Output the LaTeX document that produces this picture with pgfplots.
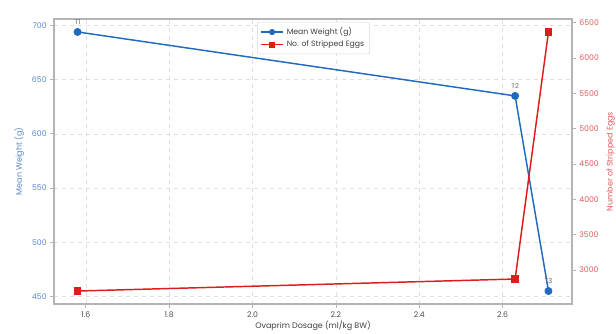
\documentclass[border=0pt]{standalone}
\usepackage{pgfplots}
\pgfplotsset{compat=1.18}
\usepackage{pgfplotstable}
\usepackage{fontspec}
\setmainfont{Poppins}
\definecolor{wblue}{HTML}{1F6BBE}
\definecolor{ered}{HTML}{DD1C1C}
\definecolor{bluetxt}{HTML}{5A87C8}
\definecolor{redtxt}{HTML}{E25A5A}
\definecolor{spine}{HTML}{B4B4B4}
\pgfplotstableread{
x w lab
1.58 694 T1
2.63 635 T2
2.71 455 T3
}\weight
\pgfplotstableread{
x e
1.58 2702
2.63 2872
2.71 6368
}\eggs
\begin{document}
\begin{tikzpicture}
\path[use as bounding box] (-40.5pt,-22.5pt) rectangle (421.5pt,228pt);
\begin{axis}[
  at={(0,0)}, anchor=south west,
  scale only axis, width=388.5pt, height=213.75pt,
  xmin=1.5235, xmax=2.7665, ymin=443.05, ymax=705.95,
  xtick={1.6,1.8,2.0,2.2,2.4,2.6},
  xticklabels={1.6,1.8,2.0,2.2,2.4,2.6},
  ytick={450,500,550,600,650,700},
  xtick pos=bottom, ytick pos=left,
  tick align=outside, major tick length=3pt,
  tick style={spine, line width=0.6pt},
  axis line style={spine, line width=1pt},
  grid=major, grid style={dashed, gray!25, line width=0.5pt},
  /pgf/number format/assume math mode=true,
  ticklabel style={font=\fontsize{5.8}{6}\selectfont},
  yticklabel style={text=bluetxt, xshift=1pt},
  xticklabel style={text=black!70, yshift=1pt},
  xlabel={Ovaprim Dosage (ml/kg BW)},
  every axis x label/.style={at={(axis description cs:0.5,0)}, anchor=base, yshift=-18.5pt,
    font=\fontsize{6}{6}\selectfont, text=black!75},
  ylabel={Mean Weight (g)},
  every axis y label/.style={at={(axis description cs:0,0.5)}, xshift=-26pt, anchor=center, rotate=90,
    font=\fontsize{6}{6}\selectfont, text=bluetxt},
  clip=false,
]
\addplot[wblue, line width=1.1pt, mark=*, mark size=2.4pt,
  nodes near coords, point meta=explicit symbolic,
  nodes near coords style={font=\fontsize{5}{5}\selectfont, text=black!60, anchor=south, yshift=1.5pt}]
  table[x=x, y=w, meta=lab] {\weight};
\end{axis}
\begin{axis}[
  at={(0,0)}, anchor=south west,
  scale only axis, width=388.5pt, height=213.75pt,
  xmin=1.5235, xmax=2.7665, ymin=2518.6, ymax=6551.4,
  axis x line=none, axis y line*=right,
  ytick={3000,3500,4000,4500,5000,5500,6000,6500},
  tick align=outside, major tick length=3pt,
  tick style={spine, line width=0.6pt},
  axis line style={spine, line width=1pt},
  /pgf/number format/assume math mode=true,
  /pgf/number format/1000 sep={},
  ticklabel style={font=\fontsize{5.8}{6}\selectfont, text=redtxt, xshift=-1pt},
  ylabel={Number of Stripped Eggs},
  every axis y label/.style={at={(axis description cs:1,0.5)}, xshift=29pt, anchor=center, rotate=90,
    font=\fontsize{6}{6}\selectfont, text=redtxt},
  legend style={at={(0.392,0.99)}, anchor=north west, font=\fontsize{5.8}{6}\selectfont,
    draw=gray!30, rounded corners=1.5pt, fill=white, text=black!75,
    row sep=-1pt, inner sep=2pt},
  legend cell align=left,
]
\addlegendimage{wblue, line width=1pt, mark=*, mark size=1.8pt}
\addlegendentry{Mean Weight (g)}
\addplot[ered, line width=1.1pt, mark=square*, mark size=2.4pt, every legend image post/.style={mark size=1.8pt, line width=1pt}]
  table[x=x, y=e] {\eggs};
\addlegendentry{No. of Stripped Eggs}
\end{axis}
\end{tikzpicture}
\end{document}
